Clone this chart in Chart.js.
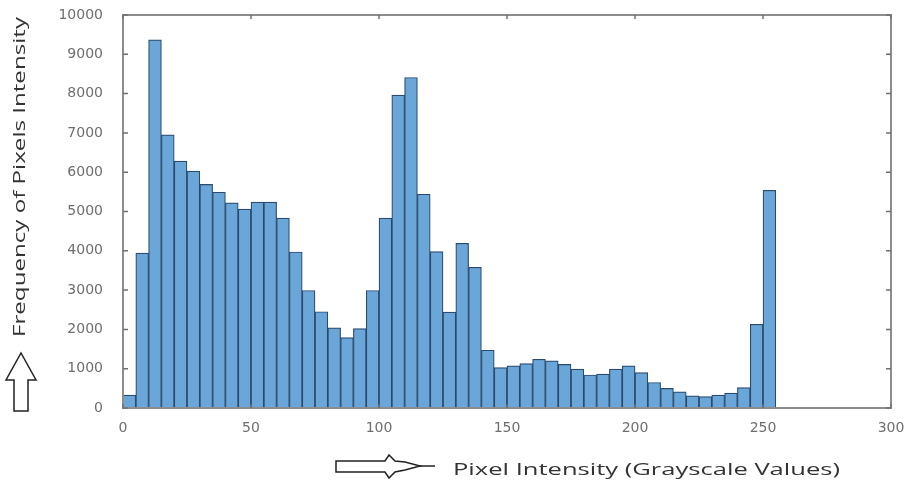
<!DOCTYPE html>
<html>
<head>
<meta charset="utf-8">
<script src="https://cdn.jsdelivr.net/npm/chart.js"></script>
<style>
  html, body { margin: 0; padding: 0; background: #fff; }
  #wrap { width: 916px; height: 482px; }
</style>
</head>
<body>
<div id="wrap"><canvas id="myChart" width="916" height="482"></canvas></div>

<script>
// Data: bins of width 5 starting at these intensities
const binStart = [0, 5, 10, 15, 20, 25, 30, 35, 40, 45, 50, 55, 60, 65, 70, 75, 80, 85, 90, 95,
  100, 105, 110, 115, 120, 125, 130, 135, 140, 145, 150, 155, 160, 165, 170, 175, 180, 185, 190, 195,
  200, 205, 210, 215, 220, 225, 230, 235, 240, 245, 250];
const binWidth = 5;
const counts = [330, 3940, 9370, 6950, 6280, 6030, 5690, 5490, 5220, 5060, 5240, 5240, 4830, 3970, 2990,
  2450, 2040, 1790, 2020, 2990, 4830, 7960, 8410, 5440, 3980, 2440, 4190, 3580, 1470, 1030, 1070, 1130,
  1240, 1200, 1110, 990, 840, 860, 990, 1070, 900, 650, 500, 410, 310, 290, 330, 380, 520, 2130, 5540];
const xTicks = [0, 50, 100, 150, 200, 250, 300];
const yTicks = [0, 1000, 2000, 3000, 4000, 5000, 6000, 7000, 8000, 9000, 10000];
const xTitle = 'Pixel Intensity (Grayscale Values)';
const yTitle = 'Frequency of Pixels Intensity';

const points = binStart.map((s, i) => ({ x: s + binWidth / 2, y: counts[i] }));

// frame, inward ticks, titles and the two outline arrows
const decor = {
  id: 'decor',
  afterDraw(chart) {
    const ctx = chart.ctx;
    const a = chart.chartArea;
    const xs = chart.scales.x, ys = chart.scales.y;
    ctx.save();
    ctx.strokeStyle = '#8c8c8c';
    ctx.lineWidth = 2;
    ctx.strokeRect(a.left, a.top, a.right - a.left, a.bottom - a.top);
    ctx.lineWidth = 1.5;
    ctx.strokeStyle = '#707070';
    ctx.beginPath();
    xTicks.forEach(v => {
      const px = xs.getPixelForValue(v);
      ctx.moveTo(px, a.top); ctx.lineTo(px, a.top + 4);
      ctx.moveTo(px, a.bottom); ctx.lineTo(px, a.bottom - 4);
    });
    yTicks.forEach(v => {
      const py = ys.getPixelForValue(v);
      ctx.moveTo(a.left, py); ctx.lineTo(a.left + 5, py);
      ctx.moveTo(a.right, py); ctx.lineTo(a.right - 5, py);
    });
    ctx.stroke();

    // titles, stretched to the length they have in the picture
    ctx.fillStyle = '#333';
    ctx.font = '17px "Open Sans"';
    ctx.textBaseline = 'middle';
    let w = ctx.measureText(xTitle).width;
    ctx.save();
    ctx.translate(453, 470);
    ctx.scale(387 / w, 1);
    ctx.fillText(xTitle, 0, 0);
    ctx.restore();

    w = ctx.measureText(yTitle).width;
    ctx.save();
    ctx.translate(20, 337);
    ctx.rotate(-Math.PI / 2);
    ctx.scale(320 / w, 1);
    ctx.fillText(yTitle, 0, 0);
    ctx.restore();

    // arrows
    ctx.strokeStyle = '#222';
    ctx.lineWidth = 1.5;
    ctx.beginPath();
    ctx.moveTo(14, 411); ctx.lineTo(14, 380); ctx.lineTo(6, 380); ctx.lineTo(21, 353);
    ctx.lineTo(36, 380); ctx.lineTo(28, 380); ctx.lineTo(28, 411); ctx.closePath();
    ctx.stroke();

    ctx.beginPath();
    ctx.moveTo(336, 461); ctx.lineTo(385, 461); ctx.lineTo(389, 455); ctx.lineTo(395, 461);
    ctx.lineTo(405, 462); ctx.lineTo(420, 466); ctx.lineTo(405, 470); ctx.lineTo(395, 472);
    ctx.lineTo(389, 478); ctx.lineTo(385, 472); ctx.lineTo(336, 472); ctx.closePath();
    ctx.stroke();
    ctx.beginPath();
    ctx.moveTo(420, 466); ctx.lineTo(435, 466);
    ctx.stroke();
    ctx.restore();
  }
};

const config = {
  type: 'bar',
  data: {
    datasets: [{
      label: 'Frequency',
      data: points,
      backgroundColor: '#6aa6d7',
      borderColor: '#2a4a6e',
      borderWidth: 1.2,
      barPercentage: 1.0,
      categoryPercentage: 1.0
    }]
  },
  options: {
    responsive: false,
    animation: false,
    layout: { padding: { left: 0, right: 25, top: 15, bottom: 0 } },
    plugins: {
      legend: { display: false },
      tooltip: { enabled: false }
    },
    scales: {
      x: {
        type: 'linear',
        min: 0,
        max: 300,
        offset: false,
        grid: { display: false },
        border: { display: false },
        ticks: {
          stepSize: 50,
          padding: 4,
          color: '#6e6e6e',
          font: { family: 'DejaVu Sans', size: 14 },
          maxRotation: 0,
          callback: v => String(v)
        },
        afterFit(scale) { scale.height = 74; }
      },
      y: {
        min: 0,
        max: 10000,
        grid: { display: false },
        border: { display: false },
        ticks: {
          stepSize: 1000,
          padding: 12,
          color: '#6e6e6e',
          font: { family: 'DejaVu Sans', size: 14 },
          callback: v => String(v)
        },
        afterFit(scale) {
          scale.width = 123;
          scale.paddingTop = 0;
          scale.paddingBottom = 0;
        }
      }
    }
  },
  plugins: [decor]
};

var myChart = new Chart(document.getElementById('myChart'), config);
</script>
</body>
</html>
